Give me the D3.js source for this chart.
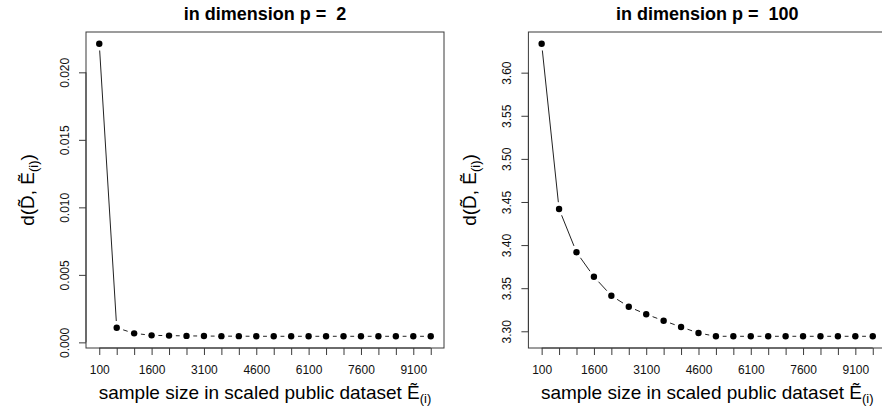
<!DOCTYPE html>
<html>
<head>
<meta charset="utf-8">
<script src="https://cdn.jsdelivr.net/npm/d3@7"></script>
<style>
  body { margin: 0; background: #fff; }
  svg { display: block; font-family: "Liberation Sans", Arial, Helvetica, sans-serif; }
</style>
</head>
<body>
<svg id="chart" width="882" height="413"></svg>
<script>
// sample sizes of the scaled public dataset
const sampleSizes = [100, 600, 1100, 1600, 2100, 2600, 3100, 3600, 4100, 4600,
                     5100, 5600, 6100, 6600, 7100, 7600, 8100, 8600, 9100, 9600];
const xTickLabels = [100, 1600, 3100, 4600, 6100, 7600, 9100];

// distance values, p = 2
const distP2 = [0.02212, 0.00108, 0.00067, 0.00052, 0.00050, 0.00048, 0.00047, 0.00046, 0.00046, 0.00045,
                0.00045, 0.00045, 0.00045, 0.00045, 0.00045, 0.00045, 0.00045, 0.00045, 0.00045, 0.00045];
const yTicksP2 = [0, 0.005, 0.010, 0.015, 0.020];

// distance values, p = 100
const distP100 = [3.6336, 3.4419, 3.3917, 3.3633, 3.3413, 3.3285, 3.3197, 3.3123, 3.3050, 3.2980,
                  3.2942, 3.2942, 3.2942, 3.2942, 3.2942, 3.2942, 3.2942, 3.2942, 3.2942, 3.2942];
const yTicksP100 = [3.30, 3.35, 3.40, 3.45, 3.50, 3.55, 3.60];

const svg = d3.select("#chart");

const panels = [
  { title: "in dimension p =\u00A0 2", values: distP2, ticks: yTicksP2, fmt: d3.format(".3f"), left: 86, right: 444 },
  { title: "in dimension p =\u00A0 100", values: distP100, ticks: yTicksP100, fmt: d3.format(".2f"), left: 528.4, right: 886 }
];
const plotTop = 32, plotBottom = 348;

// R style 4% padding around the data range
function padded(ext) {
  const d = (ext[1] - ext[0]) * 0.04;
  return [ext[0] - d, ext[1] + d];
}

panels.forEach(p => {
  const g = svg.append("g");
  const x = d3.scaleLinear().domain(padded(d3.extent(sampleSizes))).range([p.left, p.right]);
  const y = d3.scaleLinear().domain(padded(d3.extent(p.values))).range([plotBottom, plotTop]);

  // box
  g.append("rect")
    .attr("x", p.left).attr("y", plotTop)
    .attr("width", p.right - p.left).attr("height", plotBottom - plotTop)
    .attr("fill", "none").attr("stroke", "#3a3a3a").attr("stroke-width", 1);

  // x axis: tick at every sample size, labels where they fit
  const xAxis = d3.axisBottom(x)
    .tickValues(sampleSizes)
    .tickSize(7)
    .tickPadding(10)
    .tickFormat(d => xTickLabels.includes(d) ? d : "");
  const gx = g.append("g").attr("transform", `translate(0,${plotBottom})`).call(xAxis);
  gx.select(".domain").attr("d", `M${x(sampleSizes[0])},0H${x(sampleSizes[sampleSizes.length - 1])}`).attr("stroke", "#3a3a3a");
  gx.selectAll(".tick line").attr("stroke", "#3a3a3a");
  gx.selectAll("text").attr("font-size", 12).attr("fill", "#111").attr("font-family", null);

  // y axis with rotated labels
  const yAxis = d3.axisLeft(y).tickValues(p.ticks).tickSize(7).tickFormat(p.fmt);
  const gy = g.append("g").attr("transform", `translate(${p.left},0)`).call(yAxis);
  gy.select(".domain").attr("d", `M0,${y(p.ticks[0])}V${y(p.ticks[p.ticks.length - 1])}`).attr("stroke", "#3a3a3a");
  gy.selectAll(".tick line").attr("stroke", "#3a3a3a");
  gy.selectAll("text")
    .attr("font-size", 12).attr("fill", "#111").attr("font-family", null)
    .attr("x", null).attr("dy", null)
    .attr("text-anchor", "middle")
    .attr("transform", "translate(-17.5,0) rotate(-90)");

  // type = "b": segments with a gap around each point
  const gap = 6.8;
  const pts = sampleSizes.map((s, i) => [x(s), y(p.values[i])]);
  for (let i = 0; i < pts.length - 1; i++) {
    const [x1, y1] = pts[i], [x2, y2] = pts[i + 1];
    const len = Math.hypot(x2 - x1, y2 - y1);
    if (len <= 2 * gap) continue;
    const ux = (x2 - x1) / len, uy = (y2 - y1) / len;
    g.append("line")
      .attr("x1", x1 + ux * gap).attr("y1", y1 + uy * gap)
      .attr("x2", x2 - ux * gap).attr("y2", y2 - uy * gap)
      .attr("stroke", "#222").attr("stroke-width", 1);
  }

  g.selectAll("circle.pt")
    .data(p.values)
    .join("circle")
    .attr("class", "pt")
    .attr("cx", (d, i) => x(sampleSizes[i]))
    .attr("cy", d => y(d))
    .attr("r", 3.2)
    .attr("fill", "#000");

  // title
  g.append("text")
    .attr("x", (p.left + p.right) / 2).attr("y", 20)
    .attr("text-anchor", "middle")
    .attr("font-size", 18).attr("font-weight", "bold")
    .text(p.title);

  // x axis title
  const xt = g.append("text")
    .attr("x", (p.left + p.right) / 2).attr("y", 399)
    .attr("text-anchor", "middle")
    .attr("font-size", 19);
  xt.append("tspan").text("sample size in scaled public dataset \u1EBC");
  xt.append("tspan").attr("font-size", 13).attr("dy", 4).text("(i)");

  // y axis title
  const cy = (plotTop + plotBottom) / 2;
  const yt = g.append("text")
    .attr("transform", `translate(${p.left - 52},${cy}) rotate(-90)`)
    .attr("text-anchor", "middle")
    .attr("font-size", 19);
  yt.append("tspan").text("d(D\u0303, \u1EBC");
  yt.append("tspan").attr("font-size", 13).attr("dy", 4).text("(i)");
  yt.append("tspan").attr("dy", -4).text(")");
});
</script>
</body>
</html>
